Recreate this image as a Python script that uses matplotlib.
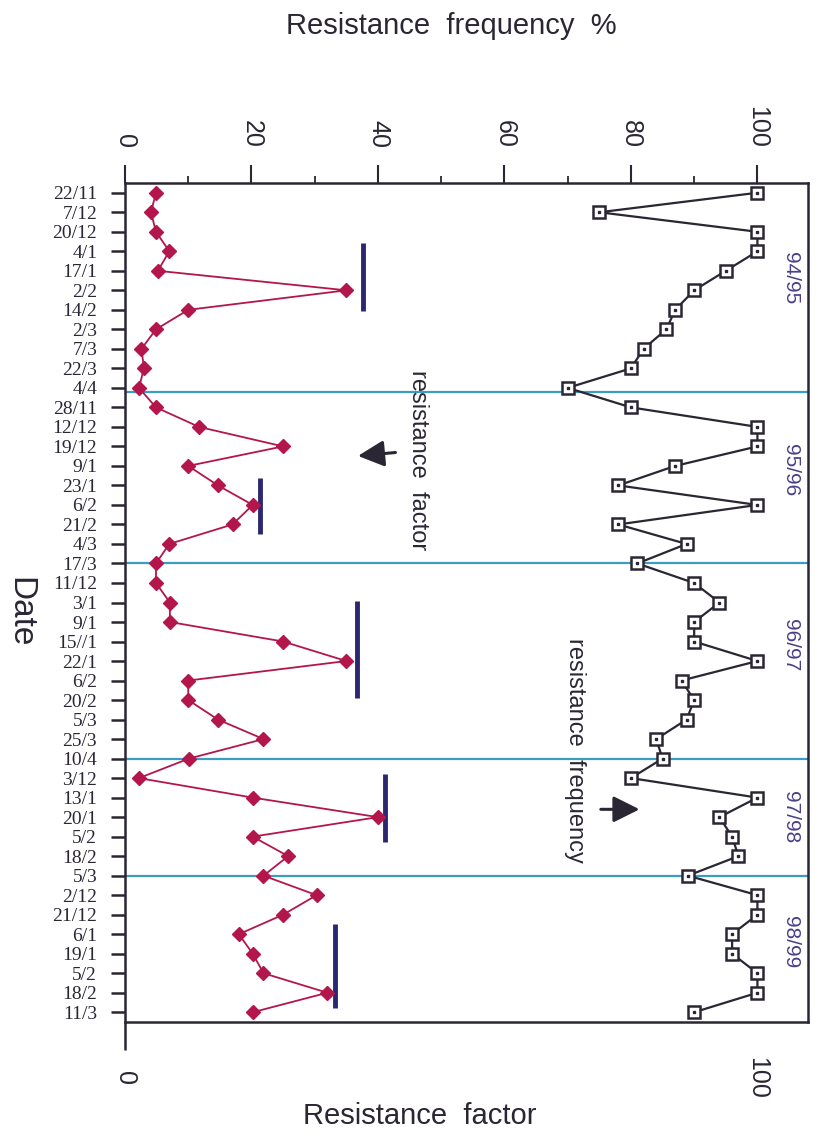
import matplotlib
matplotlib.use("Agg")
import matplotlib.pyplot as plt

# sampling dates, 5 seasons, top to bottom
dates = ["22/11", "7/12", "20/12", "4/1", "17/1", "2/2", "14/2", "2/3", "7/3", "22/3", "4/4",
         "28/11", "12/12", "19/12", "9/1", "23/1", "6/2", "21/2", "4/3", "17/3",
         "11/12", "3/1", "9/1", "15//1", "22/1", "6/2", "20/2", "5/3", "25/3", "10/4",
         "3/12", "13/1", "20/1", "5/2", "18/2", "5/3",
         "2/12", "21/12", "6/1", "19/1", "5/2", "18/2", "11/3"]

freq = [100, 75, 100, 100, 95, 90, 87, 85.6, 82, 80, 70,
        80, 100, 100, 87, 78, 100, 78, 88.8, 81,
        90, 94, 90, 90, 100, 88, 90, 88.8, 84, 85,
        80, 100, 94, 96, 97, 89,
        100, 100, 96, 96, 100, 100, 90]

factor = [4.9, 4.1, 4.9, 7, 5.2, 35, 10, 4.9, 2.6, 3, 2.2,
          4.9, 11.7, 25, 10, 14.7, 20.2, 17, 7, 4.9,
          4.9, 7.1, 7.1, 25, 35, 10, 10, 14.7, 21.9, 10.1,
          2.2, 20.2, 40, 20.2, 25.8, 21.9,
          30.3, 25, 18, 20.2, 21.9, 32, 20.2]

seasons = ["94/95", "95/96", "96/97", "97/98", "98/99"]
season_mid = [4.4, 14.2, 23.2, 32.0, 38.4]
season_sep = [10.2, 19, 29, 35]

# resistance factor bars per season
bar_value = [37.7, 21.4, 36.7, 41.1, 33.2]
bar_start = [2.6, 14.6, 20.9, 29.8, 37.5]
bar_end = [6.05, 17.5, 25.9, 33.3, 41.8]

dark = "#2b2633"
red = "#b3164b"
navy = "#2c2770"
teal = "#3d9cc2"
purple = "#4b3f8a"

fig = plt.figure(figsize=(8.21, 11.4), dpi=100)
ax = fig.add_axes([125 / 821, 1 - 1022 / 1140, (808 - 125) / 821, (1022 - 183) / 1140])

idx = list(range(len(dates)))

for s in season_sep:
    ax.axhline(s, color=teal, lw=1.6, zorder=1)

ax.plot(freq, idx, color=dark, lw=1.6, marker="s", ms=8, mfc="white", mec=dark, mew=1.8, zorder=4)
ax.plot(freq, idx, ls="none", marker="s", ms=2, color=dark, zorder=5)
ax.plot(factor, idx, color=red, lw=1.3, marker="D", ms=7, zorder=4)

for v, a, b in zip(bar_value, bar_start, bar_end):
    ax.plot([v, v], [a, b], color=navy, lw=3.5, solid_capstyle="butt", zorder=3)

for name, m in zip(seasons, season_mid):
    ax.text(105.2, m, name, rotation=-90, ha="center", va="center",
            fontsize=15, color=purple, family="Liberation Sans")

ax.text(46.4, 13.7, "resistance  factor", rotation=-90, ha="center", va="center",
        fontsize=17, color=dark, family="Liberation Sans", zorder=6)
ax.text(71.2, 28.6, "resistance  frequency", rotation=-90, ha="center", va="center",
        fontsize=17, color=dark, family="Liberation Sans", zorder=6)
ax.annotate("", xy=(36.4, 13.5), xytext=(43.2, 13.3),
            arrowprops=dict(arrowstyle="-|>", lw=2.2, color=dark, mutation_scale=40))
ax.annotate("", xy=(81.8, 31.6), xytext=(74.8, 31.6),
            arrowprops=dict(arrowstyle="-|>", lw=2.2, color=dark, mutation_scale=40))

ax.set_xlim(0, 108)
ax.set_ylim(42.5, -0.5)

# top axis: resistance frequency %
ax.xaxis.tick_top()
ax.set_xticks([0, 20, 40, 60, 80, 100])
ax.set_xticks([10, 30, 50, 70, 90], minor=True)
ax.tick_params(axis="x", which="major", direction="out", length=13, width=1.5,
               pad=12, labelsize=18, labelrotation=-90, colors=dark)
ax.tick_params(axis="x", which="minor", direction="out", length=5, width=1.3, colors=dark)
for t in ax.get_xticklabels():
    t.set_family("Liberation Sans")

# bottom axis: resistance factor
sec = ax.secondary_xaxis("bottom")
sec.set_xticks([0, 100])
sec.tick_params(axis="x", direction="out", length=20, width=1.8, pad=20,
                labelsize=18, labelrotation=-90, colors=dark)
for t in sec.get_xticklabels():
    t.set_family("Liberation Sans")
    t.set_va("center")
sec.xaxis.get_major_ticks()[1].tick1line.set_visible(False)
sec.spines["bottom"].set_visible(False)

ax.set_yticks(idx)
ax.set_yticklabels(dates, family="Liberation Serif", fontsize=14)
ax.tick_params(axis="y", direction="out", length=10, width=1.8, pad=10, colors=dark)

for sp in ax.spines.values():
    sp.set_linewidth(1.8)
    sp.set_color(dark)

fig.text(451 / 821, 1 - 26 / 1140, "Resistance  frequency  %", ha="center", va="center",
         fontsize=21, color=dark, family="Liberation Sans")
fig.text(420 / 821, 1 - 1116 / 1140, "Resistance  factor", ha="center", va="center",
         fontsize=21, color=dark, family="Liberation Sans")
fig.text(20 / 821, 1 - 612 / 1140, "Date", rotation=-90, ha="center", va="center",
         fontsize=24, color=dark, family="Liberation Sans")

fig.savefig("out.png", dpi=100)
